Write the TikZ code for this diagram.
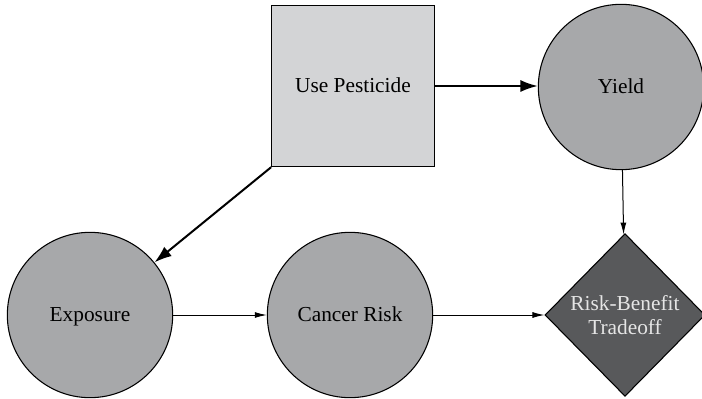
\documentclass[tikz,border=0pt]{standalone}
\usepackage{fontspec}
\setmainfont{Liberation Serif}
\usetikzlibrary{arrows.meta,shapes.geometric}

\definecolor{actgray}{HTML}{D3D4D6}
\definecolor{chancegray}{HTML}{A7A8AA}
\definecolor{valuegray}{HTML}{58595B}

\begin{document}
\begin{tikzpicture}[
    x=0.75pt, y=-0.75pt,
    every node/.style={font=\fontsize{16}{18}\selectfont},
    decision/.style={
      draw=black, line width=0.8pt,
      fill=actgray, text height=11pt, text depth=1pt,
      rectangle, minimum width=122pt, minimum height=121pt, inner sep=0pt
    },
    chance/.style={
      draw=black, line width=0.8pt,
      fill=chancegray, text height=11pt, text depth=1pt,
      circle, minimum size=124pt, inner sep=0pt
    },
    utility/.style={
      draw=black, line width=0.8pt,
      fill=valuegray, text=white!90!black,
      diamond, aspect=1, minimum width=120pt, minimum height=122pt,
      inner sep=0pt, align=center
    },
    bigarrow/.style={-{Latex[length=13pt,width=9pt]}, line width=1.5pt},
    arrow/.style={-{Latex[length=9pt,width=4.5pt]}, line width=0.75pt}
  ]

    \useasboundingbox (0,0) rectangle (702,399);

    \node[decision] (pest) at (353,86) {Use Pesticide};
    \node[chance] (yield) at (621,87) {Yield};
    \node[chance] (expo) at (90,315) {Exposure};
    \node[chance] (cancer) at (350,315) {Cancer Risk};
    \node[utility] (tradeoff) at (625,315) {Risk-Benefit\\Tradeoff};

    \draw[bigarrow] (pest.east) -- (pest.east -| yield.west);
    \draw[bigarrow] (pest.south west) -- (expo);
    \draw[arrow] (expo) -- (cancer);
    \draw[arrow] (cancer) -- (tradeoff);
    \draw[arrow] (yield) -- (tradeoff);

  \end{tikzpicture}
\end{document}
